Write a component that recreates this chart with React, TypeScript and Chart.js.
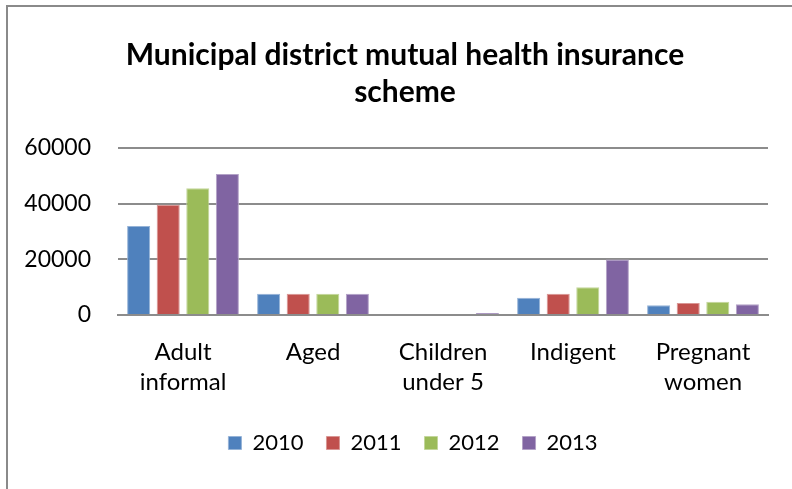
import React, { useEffect, useRef } from "react";
import { Chart, registerables } from "chart.js";

Chart.register(...registerables);

const categories: string[][] = [
  ["Adult", "informal"],
  ["Aged"],
  ["Children", "under 5"],
  ["Indigent"],
  ["Pregnant", "women"],
];
const seriesNames = ["2010", "2011", "2012", "2013"];
const values2010 = [32000, 7600, 0, 6200, 3500];
const values2011 = [39600, 7600, 0, 7600, 4300];
const values2012 = [45500, 7600, 0, 10000, 4800];
const values2013 = [50700, 7600, 700, 19900, 3900];
const yTicks = [0, 20000, 40000, 60000];
const titleLines = ["Municipal district mutual health insurance", "scheme"];

const fills = ["#4F81BD", "#C0504D", "#9BBB59", "#8064A2"];
const edges = ["#95b3d7", "#d99694", "#c3d69b", "#b3a2c7"];

const shiftPlugin = {
  id: "shiftBlocks",
  afterLayout(chart: any) {
    if (chart.titleBlock) {
      chart.titleBlock.left += 22;
    }
    if (chart.legend) {
      chart.legend.left += 19;
      chart.legend.right += 19;
    }
  },
};

export default function App() {
  const ref = useRef<HTMLCanvasElement | null>(null);
  useEffect(() => {
    if (!ref.current) return;
    const all = [values2010, values2011, values2012, values2013];
    const chart = new Chart(ref.current, {
      type: "bar",
      data: {
        labels: categories,
        datasets: all.map((v, i) => ({
          label: seriesNames[i],
          data: v,
          backgroundColor: fills[i],
          borderColor: edges[i],
          borderWidth: 1,
          categoryPercentage: 0.91,
          barPercentage: 0.78,
        })),
      },
      plugins: [shiftPlugin],
      options: {
        animation: false,
        responsive: false,
        layout: { padding: { left: 20, right: 24, top: 0, bottom: 25 } },
        plugins: {
          title: {
            display: true,
            text: titleLines,
            color: "#000",
            font: { family: "Lato", size: 30, weight: "bold", lineHeight: 1.24 },
            padding: { top: 37, bottom: 36.6 },
          },
          legend: {
            position: "bottom",
            labels: {
              color: "#000",
              font: { family: "Lato", size: 22 },
              boxWidth: 13,
              boxHeight: 13,
              padding: 23,
            },
          },
          tooltip: { enabled: false },
        },
        scales: {
          x: {
            afterFit: (s: any) => {
              s.height = 94;
            },
            grid: { display: false, drawTicks: false },
            border: { display: true, color: "#8c8c8c", width: 2 },
            ticks: {
              color: "#000",
              font: { family: "Lato", size: 24, lineHeight: 1.27 },
              padding: 22,
              maxRotation: 0,
              autoSkip: false,
            },
          },
          y: {
            min: 0,
            max: 60000,
            afterFit: (s: any) => {
              s.width = 98;
            },
            afterBuildTicks: (s: any) => {
              s.ticks = yTicks.map((v) => ({ value: v }));
            },
            grid: { color: "#8c8c8c", lineWidth: 2, drawTicks: false },
            border: { display: false },
            ticks: {
              color: "#000",
              font: { family: "Lato", size: 23 },
              padding: 27,
              callback: (v: any) => String(v),
            },
          },
        },
      },
    });
    return () => chart.destroy();
  }, []);
  return (
    <div style={{ position: "fixed", left: 0, top: 0, width: 792, height: 489, overflow: "hidden", background: "#fff" }}>
      <div
        style={{
          position: "absolute",
          left: 6,
          top: 5,
          width: 820,
          height: 520,
          borderTop: "2px solid #8a8a8a",
          borderLeft: "2px solid #8a8a8a",
        }}
      />
      <canvas ref={ref} width={792} height={489} style={{ position: "absolute", left: 0, top: 0 }} />
    </div>
  );
}
